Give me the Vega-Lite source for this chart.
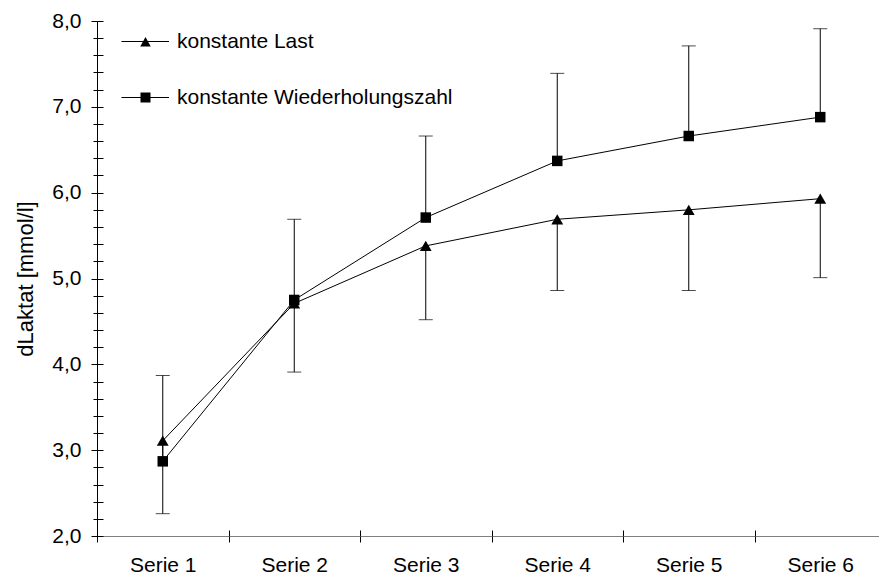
{
  "$schema": "https://vega.github.io/schema/vega-lite/v6.json",
  "autosize": {"type": "none"},
  "padding": {"left": 97, "top": 21, "right": 0, "bottom": 45},
  "width": 782,
  "height": 515,
  "background": "white",
  "config": {
    "view": {"stroke": null},
    "font": "Liberation Sans",
    "axis": {"labelFont": "Liberation Sans", "titleFont": "Liberation Sans", "labelColor": "black", "titleColor": "black", "tickColor": "black", "domainColor": "black", "grid": false}
  },
  "data": {
    "values": [
      {"serie": "Serie 1", "series": "konstante Last", "mean": 3.11, "end": 2.26},
      {"serie": "Serie 2", "series": "konstante Last", "mean": 4.71, "end": 3.91},
      {"serie": "Serie 3", "series": "konstante Last", "mean": 5.38, "end": 4.52},
      {"serie": "Serie 4", "series": "konstante Last", "mean": 5.69, "end": 4.86},
      {"serie": "Serie 5", "series": "konstante Last", "mean": 5.80, "end": 4.86},
      {"serie": "Serie 6", "series": "konstante Last", "mean": 5.93, "end": 5.01},
      {"serie": "Serie 1", "series": "konstante Wiederholungszahl", "mean": 2.87, "end": 3.87},
      {"serie": "Serie 2", "series": "konstante Wiederholungszahl", "mean": 4.75, "end": 5.69},
      {"serie": "Serie 3", "series": "konstante Wiederholungszahl", "mean": 5.71, "end": 6.66},
      {"serie": "Serie 4", "series": "konstante Wiederholungszahl", "mean": 6.37, "end": 7.39},
      {"serie": "Serie 5", "series": "konstante Wiederholungszahl", "mean": 6.66, "end": 7.71},
      {"serie": "Serie 6", "series": "konstante Wiederholungszahl", "mean": 6.88, "end": 7.91}
    ]
  },
  "resolve": {"axis": {"x": "independent", "y": "independent"}},
  "layer": [
    {
      "mark": {"type": "rule", "color": "black", "strokeWidth": 1},
      "encoding": {
        "x": {"field": "serie", "type": "nominal", "sort": null,
          "scale": {"range": [0, 789], "paddingInner": 0, "paddingOuter": 0},
          "axis": {"orient": "bottom", "title": null, "tickBand": "extent", "tickSize": 6, "labelFontSize": 21, "labelPadding": 12, "labelAngle": 0, "domainColor": "#7f7f7f"}},
        "y": {"field": "mean", "type": "quantitative",
          "scale": {"domain": [2, 8], "nice": false, "zero": false},
          "axis": {"orient": "left", "values": [2, 3, 4, 5, 6, 7, 8], "tickSize": 6, "labelPadding": 10, "labelFontSize": 21,
            "labelExpr": "replace(format(datum.value, '.1f'), '.', ',')",
            "title": "dLaktat [mmol/l]", "titleFontSize": 22, "titleFontWeight": "normal", "titlePadding": 14}},
        "y2": {"field": "end"}
      }
    },
    {
      "mark": {"type": "tick", "color": "black", "thickness": 1, "size": 14},
      "encoding": {
        "x": {"field": "serie", "type": "nominal", "sort": null,
          "axis": {"orient": "bottom", "offset": -6, "tickBand": "extent", "tickSize": 6, "labels": false, "domain": false, "title": null}},
        "y": {"field": "end", "type": "quantitative",
          "axis": {"orient": "left", "values": [2.2, 2.4, 2.6, 2.8, 3.2, 3.4, 3.6, 3.8, 4.2, 4.4, 4.6, 4.8, 5.2, 5.4, 5.6, 5.8, 6.2, 6.4, 6.6, 6.8, 7.2, 7.4, 7.6, 7.8], "tickSize": 4, "labels": false, "domain": false, "title": null}}
      }
    },
    {
      "mark": {"type": "line", "color": "black", "strokeWidth": 1},
      "encoding": {
        "x": {"field": "serie", "type": "nominal", "sort": null, "axis": null},
        "y": {"field": "mean", "type": "quantitative",
          "axis": {"orient": "left", "offset": -6, "values": [2, 2.2, 2.4, 2.6, 2.8, 3, 3.2, 3.4, 3.6, 3.8, 4, 4.2, 4.4, 4.6, 4.8, 5, 5.2, 5.4, 5.6, 5.8, 6, 6.2, 6.4, 6.6, 6.8, 7, 7.2, 7.4, 7.6, 7.8, 8], "tickSize": 6, "labels": false, "domain": false, "title": null}},
        "detail": {"field": "series"}
      }
    },
    {
      "mark": {"type": "point", "filled": true, "opacity": 1, "color": "black", "strokeWidth": 0},
      "encoding": {
        "x": {"field": "serie", "type": "nominal", "sort": null, "axis": null},
        "y": {"field": "mean", "type": "quantitative", "axis": null},
        "shape": {"condition": {"test": "datum.series === 'konstante Last'", "value": "triangle-up"}, "value": "square"},
        "size": {"condition": {"test": "datum.series === 'konstante Last'", "value": 140}, "value": 110}
      }
    },
    {
      "mark": {"type": "point", "filled": true, "opacity": 0, "color": "black", "strokeWidth": 0},
      "encoding": {
        "x": {"field": "serie", "type": "nominal", "sort": null, "axis": null},
        "y": {"field": "mean", "type": "quantitative", "axis": null},
        "shape": {"field": "series", "type": "nominal",
          "scale": {"range": ["M-4.8,-0.1H4.7V0.1H-4.8Z M0,-0.9L1.05,1L-1.05,1Z", "M-4.8,-0.1H4.7V0.1H-4.8Z M-1,-1H1V1H-1Z"]},
          "legend": {
            "orient": "none", "legendX": 38, "legendY": 10, "title": null,
            "symbolSize": 100, "labelOffset": 21, "rowPadding": 34, "labelLimit": 500,
            "labelFontSize": 21, "labelFont": "Liberation Sans", "labelColor": "black",
            "symbolStrokeWidth": 0, "symbolFillColor": "black", "symbolOpacity": 1
          }}
      }
    }
  ]
}
